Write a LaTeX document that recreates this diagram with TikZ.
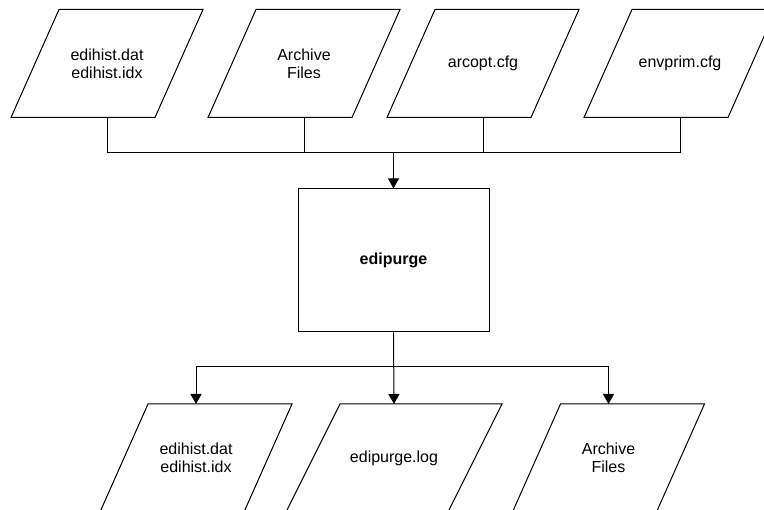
\documentclass[tikz,border=0pt]{standalone}
\usepackage{fontspec}
\setmainfont{Liberation Sans}
\usetikzlibrary{arrows.meta}
\begin{document}
\begin{tikzpicture}[x=1pt,y=-1pt,line width=1pt,>={Triangle[width=11pt,length=10pt]}]
	\clip (0,0) rectangle (764,510);
	\begin{scope}[every node/.style={inner sep=0pt,minimum width=143pt,minimum height=107pt,align=center,font=\fontsize{16}{18.4}\selectfont}]
	\node (in1) at (107,63.5) {edihist.dat\\edihist.idx};
	\node (in2) at (304,63.5) {Archive\\Files};
	\node (in3) at (483,63.5) {arcopt.cfg};
	\node (in4) at (680,63.5) {envprim.cfg};
	\node (out1) at (196,458) {edihist.dat\\edihist.idx};
	\node[minimum width=161pt] (out2) at (394,458) {edipurge.log};
	\node (out3) at (608.5,458) {Archive\\Files};
	\node[draw,minimum width=191pt,minimum height=143pt,font=\fontsize{16}{18.4}\selectfont\bfseries] (purge) at (393.5,260.5) {edipurge};
	\end{scope}
	\foreach \n/\s in {in1/24,in2/24,in3/24,in4/24,out1/24,out2/27,out3/24}
		\draw ([xshift=\s]\n.north west) -- ([xshift=\s]\n.north east) -- ([xshift=-\s]\n.south east) -- ([xshift=-\s]\n.south west) -- cycle;
	\coordinate (bus) at (393.5,153);
	\coordinate (split) at (393.5,367);
	\draw (in1.south) |- (in4.south |- bus) -- (in4.south);
	\draw (in2.south) -- (in2.south |- bus);
	\draw (in3.south) -- (in3.south |- bus);
	\draw[->] (bus) -- (purge.north);
	\draw[->] (purge.south) -- (out2.north);
	\draw[->] (split) -| (out1.north);
	\draw[->] (split) -| (out3.north);
\end{tikzpicture}
\end{document}
